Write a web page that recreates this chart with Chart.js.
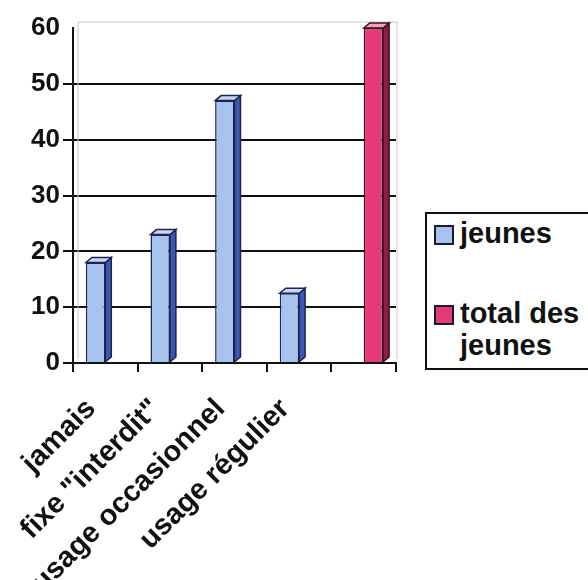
<!DOCTYPE html>
<html>
<head>
<meta charset="utf-8">
<script src="https://cdn.jsdelivr.net/npm/chart.js@4"></script>
<style>
    html, body { margin: 0; padding: 0; background: #fff; overflow: hidden; }
    #wrap { position: relative; width: 588px; height: 580px; overflow: hidden; }
    #legend {
        position: absolute; left: 425px; top: 212px; width: 200px; height: 158px;
        border: 2px solid #111; box-sizing: border-box; background: #fff;
        font-family: "Liberation Sans", Arial, sans-serif; font-weight: bold; font-size: 29px;
        color: #111; padding: 3px 0 0 7px;
    }
    .item { display: flex; align-items: flex-start; line-height: 32px; }
    .item + .item { margin-top: 48px; }
    .swatch { width: 16px; height: 16px; border: 2px solid #1a1a30; margin: 8px 6px 0 0; flex: none; }
</style>
</head>
<body>
<div id="wrap">
    <canvas id="chart" width="588" height="580"></canvas>
    <div id="legend"></div>
</div>
<script>
const categories = ['jamais', 'fixe "interdit"', 'usage occasionnel', 'usage régulier', ''];
const jeunes = [18, 23, 47, 12.5, null];
const totalJeunes = [null, null, null, null, 60];
const yTicks = [0, 10, 20, 30, 40, 50, 60];

// fake 3D: side and top faces for each bar
const bar3d = {
    id: 'bar3d',
    afterDatasetsDraw(chart) {
        const ctx = chart.ctx;
        const dx = 6, dy = 5;
        chart.data.datasets.forEach((ds, i) => {
            chart.getDatasetMeta(i).data.forEach((bar, j) => {
                if (ds.data[j] == null) return;
                const l = bar.x - bar.width / 2, r = bar.x + bar.width / 2;
                const t = bar.y, b = bar.base;
                ctx.save();
                ctx.lineWidth = 1.5;
                ctx.strokeStyle = ds.borderColor;
                ctx.beginPath();
                ctx.moveTo(r, t); ctx.lineTo(r + dx, t - dy); ctx.lineTo(r + dx, b - dy); ctx.lineTo(r, b);
                ctx.closePath();
                ctx.fillStyle = ds.sideColor; ctx.fill(); ctx.stroke();
                ctx.beginPath();
                ctx.moveTo(l, t); ctx.lineTo(l + dx, t - dy); ctx.lineTo(r + dx, t - dy); ctx.lineTo(r, t);
                ctx.closePath();
                ctx.fillStyle = ds.topColor; ctx.fill(); ctx.stroke();
                ctx.restore();
            });
        });
    },
    beforeDatasetsDraw(chart) {
        // light grey back wall edges
        const a = chart.chartArea, ctx = chart.ctx;
        ctx.save();
        ctx.strokeStyle = '#c8c8c8';
        ctx.lineWidth = 1;
        ctx.beginPath();
        ctx.moveTo(a.left + 5, a.top - 6); ctx.lineTo(a.right + 1, a.top - 6);
        ctx.lineTo(a.right + 1, a.bottom - 4);
        ctx.moveTo(a.left + 5, a.top - 6); ctx.lineTo(a.left + 5, a.bottom - 4);
        ctx.stroke();
        ctx.restore();
    }
};

const font = { family: '"Liberation Sans", Arial, sans-serif', weight: 'bold', size: 26 };

const chart = new Chart(document.getElementById('chart'), {
    type: 'bar',
    data: {
        labels: categories,
        datasets: [{
            label: 'jeunes',
            data: jeunes,
            backgroundColor: '#a8c2f0',
            borderColor: '#1c2450',
            sideColor: '#3a58b2',
            topColor: '#c9d5f2',
            borderWidth: 1.5,
            categoryPercentage: 0.6,
            barPercentage: 1
        }, {
            label: 'total des jeunes',
            data: totalJeunes,
            backgroundColor: '#e63a78',
            borderColor: '#3a1020',
            sideColor: '#8e1c48',
            topColor: '#f2a2bc',
            borderWidth: 1.5,
            categoryPercentage: 0.6,
            barPercentage: 1
        }]
    },
    options: {
        responsive: false,
        animation: false,
        layout: { padding: { top: 28, right: 192 } },
        plugins: { legend: { display: false }, tooltip: { enabled: false } },
        scales: {
            x: {
                afterFit: s => { s.height = 217; },
                grid: { display: true, offset: true, drawOnChartArea: false, color: '#111', lineWidth: 2, tickLength: 9 },
                border: { color: '#111', width: 2 },
                ticks: { color: '#111', font: Object.assign({}, font, { size: 29 }), minRotation: 45, maxRotation: 45, labelOffset: -14, padding: 20, autoSkip: false }
            },
            y: {
                min: 0, max: 60,
                afterFit: s => { s.width = 73; },
                afterBuildTicks: s => { s.ticks = yTicks.map(v => ({ value: v })); },
                grid: {
                    color: c => c.tick.value === 60 ? 'rgba(0,0,0,0)' : '#111',
                    lineWidth: 2, tickLength: 10
                },
                border: { color: '#111', width: 2 },
                ticks: { color: '#111', font: font, padding: 3 }
            }
        }
    },
    plugins: [bar3d]
});

// html legend from the datasets
const legend = document.getElementById('legend');
chart.data.datasets.forEach(ds => {
    const item = document.createElement('div');
    item.className = 'item';
    item.innerHTML = `<span class="swatch" style="background:${ds.backgroundColor}"></span><span>${ds.label}</span>`;
    legend.appendChild(item);
});
</script>
</body>
</html>
